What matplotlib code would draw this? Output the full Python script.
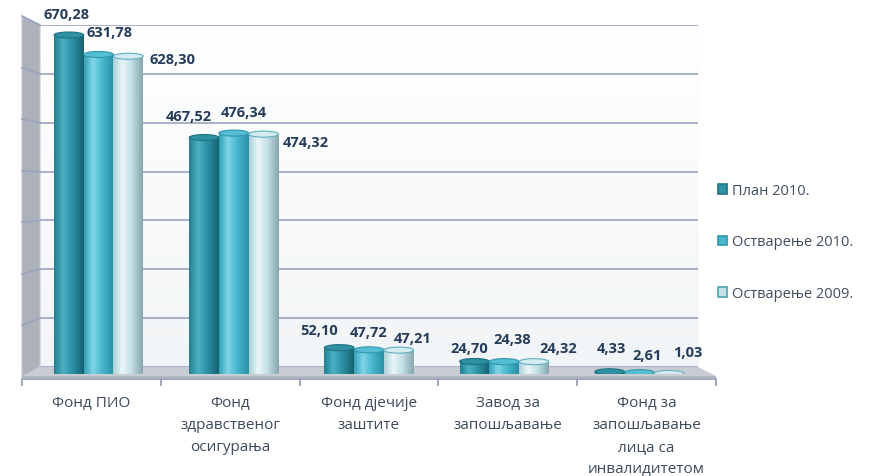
import matplotlib
matplotlib.use('Agg')
import matplotlib.pyplot as plt
import numpy as np
from matplotlib.colors import LinearSegmentedColormap
from matplotlib.patches import Polygon, Ellipse, Patch
from matplotlib.lines import Line2D

plt.rcParams['font.family'] = ['Open Sans', 'DejaVu Sans']

categories = ['Фонд ПИО', 'Фонд\nздравственог\nосигурања', 'Фонд дјечије\nзаштите',
              'Завод за\nзапошљавање', 'Фонд за\nзапошљавање\nлица са\nинвалидитетом']
series_names = ['План 2010.', 'Остварење 2010.', 'Остварење 2009.']
plan_2010 = [670.28, 467.52, 52.10, 24.70, 4.33]
ostv_2010 = [631.78, 476.34, 47.72, 24.38, 2.61]
ostv_2009 = [628.30, 474.32, 47.21, 24.32, 1.03]
series = [plan_2010, ostv_2010, ostv_2009]

# label offsets (pixels) from the top of each cylinder
label_dx = [[-2, 11, 44], [-15, 10, 42], [-20, 0, 14], [-5, 8, 24], [2, 8, 19]]
label_dy = [[21, 22, -3], [22, 21, -8], [18, 18, 12], [14, 23, 14], [24, 18, 21]]

grads = [
    ['#237E90', '#4BB0C3', '#2C93A6', '#17606E'],
    ['#2FA0B8', '#82D5E5', '#48B8CF', '#2A8EA4'],
    ['#A9CFD7', '#EAF6F8', '#C6E2E8', '#86A5AD'],
]
tops = [('#2E90A2', '#1E7282'), ('#55BDD2', '#2E97AD'), ('#D4EBEF', '#5FAFBE')]
legend_face = ['#2C93A6', '#48B8CF', '#C6E2E8']
legend_edge = ['#1E7282', '#2E97AD', '#4FA3B3']

W, H = 869, 477
fig = plt.figure(figsize=(W / 100, H / 100), dpi=100)
fig.patch.set_facecolor('white')


def P(x, y):
    return (x / W, 1 - y / H)


def box(x0, y0, x1, y1):
    return [x0 / W, 1 - y1 / H, (x1 - x0) / W, (y1 - y0) / H]


# back wall
ax_back = fig.add_axes(box(40, 26, 698, 368), zorder=-3)
ax_back.set_xlim(0, 1)
ax_back.set_ylim(0, 700)
ax_back.imshow(np.linspace(0, 1, 100).reshape(-1, 1), extent=(0, 1, 0, 700), aspect='auto',
               cmap=LinearSegmentedColormap.from_list('w', ['#FFFFFF', '#F2F5F7']), zorder=0)
ax_back.set_yticks(range(0, 800, 100))
ax_back.grid(axis='y', color='#9AA4C0', lw=1.2, zorder=1)
ax_back.tick_params(left=False, bottom=False, labelleft=False, labelbottom=False)
for s in ax_back.spines.values():
    s.set_visible(False)

# left wall
fig.add_artist(Polygon([P(22, 17), P(40, 26), P(40, 368), P(22, 378)], closed=True, zorder=-2,
                       transform=fig.transFigure, facecolor='#ADB1B9', edgecolor='#C4C8CE', lw=0.8))
for v in range(100, 800, 100):
    yb = H - ax_back.transData.transform((0, v))[1]
    yf = 17 + (yb - 26) * 361 / 342
    fig.add_artist(Line2D([22 / W, 40 / W], [1 - yf / H, 1 - yb / H], transform=fig.transFigure,
                          color='#9AA4C0', lw=1.2, zorder=-1.5))

# floor
fig.add_artist(Polygon([P(40, 368), P(698, 368), P(716, 377), P(22, 377)], closed=True, zorder=-2,
                       transform=fig.transFigure, facecolor='#C9CDD3', edgecolor='none'))
fig.add_artist(Polygon([P(22, 377), P(716, 377), P(716, 379), P(22, 379)], closed=True, zorder=-2,
                       transform=fig.transFigure, facecolor='#B3B8C0', edgecolor='none'))

# front axis with category labels
ax_front = fig.add_axes(box(22, 378, 716, 379.5), zorder=-1)
ax_front.set_xlim(-0.5, 4.5)
ax_front.set_ylim(0, 1)
ax_front.patch.set_visible(False)
for k, s in ax_front.spines.items():
    s.set_visible(k == 'bottom')
ax_front.spines['bottom'].set_color('#8E9BB8')
ax_front.spines['bottom'].set_linewidth(1.2)
ax_front.set_yticks([])
ax_front.set_xticks(range(len(categories)))
ax_front.set_xticklabels(categories, fontsize=11, color='#3D4B5C', linespacing=1.62)
ax_front.set_xticks(np.arange(-0.5, 5, 1), minor=True)
ax_front.tick_params(axis='x', which='major', length=0, pad=12)
ax_front.tick_params(axis='x', which='minor', length=5, width=1.2, color='#8E9BB8')

# cylinders
ax = fig.add_axes(box(31, 21, 707, 375), zorder=1)
ax.patch.set_visible(False)
ax.axis('off')
bw = 0.22
ell_h = 12
idx = np.arange(len(categories))
grad_img = np.linspace(0, 1, 256).reshape(1, -1)
for i, vals in enumerate(series):
    cmap = LinearSegmentedColormap.from_list('g%d' % i, list(zip([0, 0.3, 0.6, 1.0], grads[i])))
    xs = idx + (i - 1) * bw
    bars = ax.bar(xs, vals, width=bw, color='none', edgecolor='none', zorder=2)
    for j, (b, v) in enumerate(zip(bars, vals)):
        x0 = b.get_x()
        x1 = x0 + b.get_width()
        xc = x0 + bw / 2
        im = ax.imshow(grad_img, extent=(x0, x1, -ell_h / 2, v), aspect='auto', cmap=cmap, zorder=2 + i * 0.01)
        im.set_clip_path(b)
        bot = Ellipse((xc, 0), bw, ell_h, facecolor='none', edgecolor='none')
        ax.add_patch(bot)
        im2 = ax.imshow(grad_img, extent=(x0, x1, -ell_h / 2, ell_h / 2), aspect='auto', cmap=cmap,
                        zorder=2 + i * 0.01)
        im2.set_clip_path(bot)
        ax.add_patch(Ellipse((xc, v), bw, ell_h, facecolor=tops[i][0], edgecolor=tops[i][1],
                             lw=0.8, zorder=2.05 + i * 0.01))
        ax.annotate(('%.2f' % v).replace('.', ','), xy=(xc, v),
                    xytext=(label_dx[j][i], label_dy[j][i]), textcoords='offset pixels',
                    ha='center', va='center', fontsize=10.5, fontweight='bold', color='#243C5A',
                    zorder=5)
ax.set_xlim(-0.5, 4.5)
ax.set_ylim(0, 700)

handles = [Patch(facecolor=legend_face[i], edgecolor=legend_edge[i], lw=1.2) for i in range(3)]
fig.legend(handles, series_names, loc='center left', bbox_to_anchor=P(718, 243), frameon=False,
           fontsize=10.5, labelcolor='#404E5E', handlelength=0.65, handleheight=0.65,
           handletextpad=0.3, labelspacing=2.5, borderaxespad=0, borderpad=0)

fig.savefig('out.png', dpi=100)
